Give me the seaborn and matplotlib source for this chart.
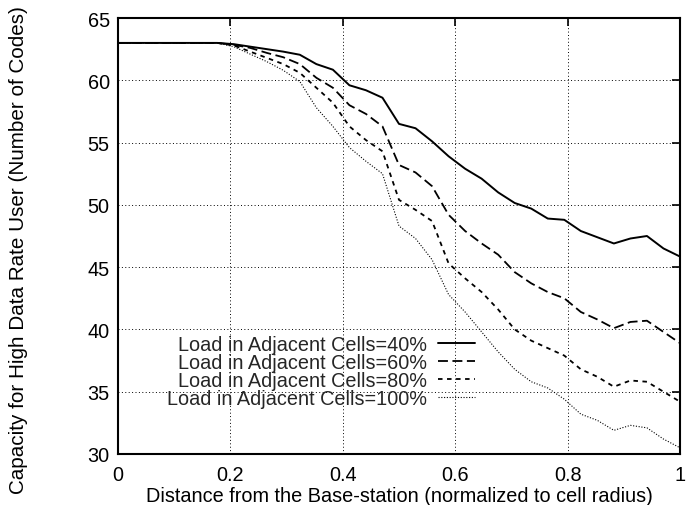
import numpy as np
import pandas as pd
import matplotlib
matplotlib.use("Agg")
import matplotlib.pyplot as plt
import seaborn as sns

# ---- data -----------------------------------------------------------------
distance = [k / 34 for k in range(35)]

load_40 = [63, 63, 63, 63, 63, 63, 63, 62.9, 62.7, 62.5, 62.3, 62.05, 61.3, 60.85,
           59.6, 59.2, 58.6, 56.5, 56.15, 55.1, 53.9, 52.9, 52.1, 51.0, 50.15, 49.7,
           48.9, 48.8, 47.9, 47.4, 46.9, 47.3, 47.5, 46.5, 45.85]
load_60 = [63, 63, 63, 63, 63, 63, 63, 62.85, 62.6, 62.2, 61.85, 61.3, 60.2, 59.4,
           58.0, 57.3, 56.3, 53.2, 52.6, 51.5, 49.2, 47.9, 46.9, 46.0, 44.6, 43.7,
           43.0, 42.5, 41.4, 40.8, 40.1, 40.6, 40.7, 39.8, 38.9]
load_80 = [63, 63, 63, 63, 63, 63, 63, 62.8, 62.3, 61.8, 61.3, 60.6, 59.4, 58.2,
           56.3, 55.2, 54.3, 50.4, 49.6, 48.7, 45.3, 44.1, 43.0, 41.6, 40.0, 39.1,
           38.5, 37.9, 36.8, 36.2, 35.4, 35.9, 35.8, 35.0, 34.2]
load_100 = [63, 63, 63, 63, 63, 63, 63, 62.7, 62.1, 61.5, 60.8, 59.9, 57.8, 56.3,
            54.6, 53.5, 52.5, 48.3, 47.3, 45.6, 42.8, 41.4, 39.8, 38.2, 36.8, 35.8,
            35.3, 34.4, 33.2, 32.7, 31.9, 32.3, 32.1, 31.2, 30.5]

series_labels = ["Load in Adjacent Cells=40%", "Load in Adjacent Cells=60%",
                 "Load in Adjacent Cells=80%", "Load in Adjacent Cells=100%"]
series_values = [load_40, load_60, load_80, load_100]

x_ticks = [0, 0.2, 0.4, 0.6, 0.8, 1]
x_tick_labels = ["0", "0.2", "0.4", "0.6", "0.8", "1"]
y_ticks = [30, 35, 40, 45, 50, 55, 60, 65]

x_label = "Distance from the Base-station (normalized to cell radius)"
y_label = "Capacity for High Data Rate User (Number of Codes)"

# ---- build table ------------------------------------------------------------
frames = []
for lab, vals in zip(series_labels, series_values):
    frames.append(pd.DataFrame({"x": distance, "y": vals, "Load": lab}))
df = pd.concat(frames, ignore_index=True)

# ---- styling ----------------------------------------------------------------
sns.set_theme(style="white")
plt.rcParams["font.family"] = ["Liberation Sans", "DejaVu Sans"]
FS = 14.3

fig = plt.figure(figsize=(6.9, 5.06), dpi=100)
ax = fig.add_axes([118 / 690, 1 - 455 / 506, (680 - 118) / 690, (455 - 19) / 506])

dash_map = {
    series_labels[0]: "",
    series_labels[1]: (5.5, 2.5),
    series_labels[2]: (2.5, 2.5),
    series_labels[3]: (1, 1.5),
}
sns.lineplot(data=df, x="x", y="y", style="Load", style_order=series_labels,
             dashes=dash_map, color="black", ax=ax, legend=True)

widths = [1.4, 1.3, 1.3, 0.8]
for line, w in zip(ax.lines[:4], widths):
    line.set_linewidth(w)

ax.set_xlim(0, 1)
ax.set_ylim(30, 65)
ax.set_xticks(x_ticks)
ax.set_xticklabels(x_tick_labels)
ax.set_yticks(y_ticks)
ax.tick_params(direction="in", length=6, width=1.2, top=True, right=True,
               labelsize=FS, colors="black", pad=6)
ax.tick_params(axis="x", pad=8)
for s in ax.spines.values():
    s.set_linewidth(1.5)
    s.set_color("black")
ax.grid(True, color="black", linestyle=(0, (1, 2.5)), linewidth=0.7)

ax.set_xlabel(x_label, fontsize=FS, color="black", va="top")
ax.xaxis.set_label_coords(0.5, -0.073)
ax.set_ylabel(y_label, fontsize=14.9, color="black")
ax.yaxis.set_label_coords(-0.160, 0.469)

handles, labels = ax.get_legend_handles_labels()
pairs = [(h, l) for h, l in zip(handles, labels) if l in series_labels]
for h, w in zip([p[0] for p in pairs], widths):
    h.set_linewidth(w)
ax.legend([p[0] for p in pairs], [p[1] for p in pairs], loc="center right",
          bbox_to_anchor=(0.635, 0.19), frameon=False, markerfirst=False,
          handlelength=1.86, handletextpad=0.55, labelspacing=-0.045,
          borderaxespad=0, borderpad=0, fontsize=FS)

fig.savefig("out.png", dpi=100)
